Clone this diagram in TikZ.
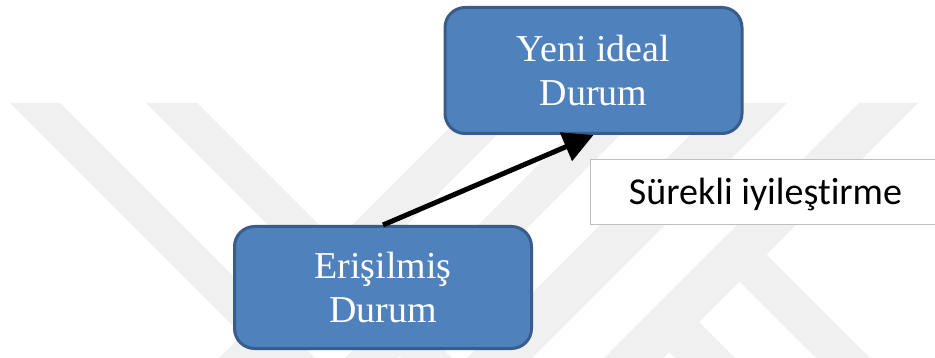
\documentclass[tikz,border=0pt]{standalone}
\usepackage{fontspec}
\setmainfont{Liberation Serif}
\newfontfamily\calibri[Ligatures=NoCommon]{Carlito}
\usetikzlibrary{arrows.meta}
\definecolor{boxfill}{HTML}{4F81BD}
\definecolor{boxedge}{HTML}{385D8A}
\definecolor{wmark}{HTML}{F0F0F0}
\definecolor{lbledge}{HTML}{BFBFBF}

\begin{document}
\begin{tikzpicture}[x=1pt,y=-1pt,
  state/.style={draw=boxedge, fill=boxfill, line width=3pt, rounded corners=20pt,
    text=white, align=center, font=\fontsize{38}{44}\selectfont, inner sep=0pt},
  tagbox/.style={draw=lbledge, line width=1.5pt, fill=white, inner sep=0pt,
    font=\calibri\fontsize{38}{44}\selectfont, text height=34pt, text depth=8pt},
  wm/.style={fill=wmark, draw=none},
  flow/.style={line width=5pt, -{Triangle[length=30pt,width=30pt]}}]

\useasboundingbox (0,0) rectangle (935,358);
\clip (0,0) rectangle (935,358);
\fill[white] (0,0) rectangle (935,358);

% faint background emblem: diagonal bands
\fill[wm] (10,103) -- (60,103) -- (315,358) -- (265,358) -- cycle;
\fill[wm] (146,103) -- (197,103) -- (452,358) -- (401,358) -- cycle;
\fill[wm] (474,103) -- (529,103) -- (274,358) -- (219,358) -- cycle;
\fill[wm] (600,103) -- (652,103) -- (397,358) -- (345,358) -- cycle;
\fill[wm] (722,103) -- (787,103) -- (532,358) -- (467,358) -- cycle;
\fill[wm] (859,103) -- (918,103) -- (663,358) -- (604,358) -- cycle;
\fill[wm] (766.5,254.5) -- (870,358) -- (816,358) -- (739.5,281.5) -- cycle;
\fill[wm] (699,322) -- (735,358) -- (675,358) -- (669,352) -- cycle;

% states
\node[state, minimum width=297pt, minimum height=126pt] (up) at (593.5,70.5) {Yeni ideal\\Durum};
\node[state, minimum width=297pt, minimum height=122pt] (lo) at (383,287.5) {Erişilmiş\\Durum};

% transition
\draw[flow] (lo.north) -- (up.south);

% caption box
\node[tagbox, minimum width=350pt, minimum height=65pt] (lbl) at (765.5,192) {Sürekli iyileştirme};
\end{tikzpicture}
\end{document}
